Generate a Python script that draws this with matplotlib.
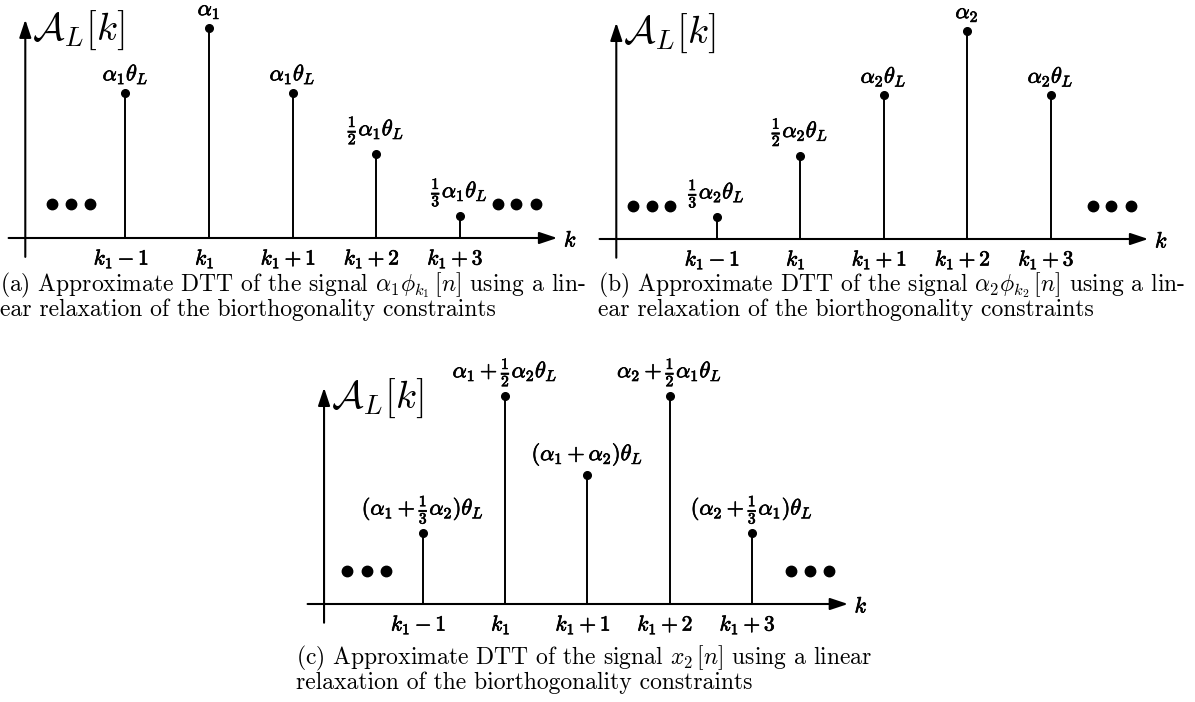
import matplotlib.pyplot as plt
from matplotlib import patheffects as pe

plt.rcParams['mathtext.fontset'] = 'cm'
plt.rcParams['font.family'] = 'cmr10'
plt.rcParams['axes.formatter.use_mathtext'] = True

W, H = 1195, 702

# stem positions (k1-1 ... k1+3) and their tick labels
k_pos = [-1, 0, 1, 2, 3]
tick_labels = [r'$k_1-1$', r'$k_1$', r'$k_1+1$', r'$k_1+2$', r'$k_1+3$']

# (a) alpha_1 phi_k1
amp_a = [0.69, 1.0, 0.69, 0.40, 0.105]
labels_a = [r'$\alpha_1\theta_L$', r'$\alpha_1$', r'$\alpha_1\theta_L$',
            r'$\frac{1}{2}\alpha_1\theta_L$', r'$\frac{1}{3}\alpha_1\theta_L$']
dots_a_left = [-1.88, -1.65, -1.43]
dots_a_right = [3.46, 3.68, 3.92]

# (b) alpha_2 phi_k2
amp_b = [0.105, 0.40, 0.69, 1.0, 0.69]
labels_b = [r'$\frac{1}{3}\alpha_2\theta_L$', r'$\frac{1}{2}\alpha_2\theta_L$',
            r'$\alpha_2\theta_L$', r'$\alpha_2$', r'$\alpha_2\theta_L$']
dots_b_left = [-2.0, -1.77, -1.56]
dots_b_right = [3.51, 3.72, 3.96]

# (c) x_2[n]
amp_c = [0.34, 1.0, 0.62, 1.0, 0.34]
labels_c = [r'$(\alpha_1+\frac{1}{3}\alpha_2)\theta_L$', r'$\alpha_1+\frac{1}{2}\alpha_2\theta_L$',
            r'$(\alpha_1+\alpha_2)\theta_L$', r'$\alpha_2+\frac{1}{2}\alpha_1\theta_L$',
            r'$(\alpha_2+\frac{1}{3}\alpha_1)\theta_L$']
dots_c_left = [-1.92, -1.68, -1.45]
dots_c_right = [3.48, 3.71, 3.94]
dots_y = 0.16

captions_a = [r'(a) Approximate DTT of the signal $\alpha_1\phi_{k_1}\,[n]$ using a lin-',
              'ear relaxation of the biorthogonality constraints']
captions_b = [r'(b) Approximate DTT of the signal $\alpha_2\phi_{k_2}\,[n]$ using a lin-',
              'ear relaxation of the biorthogonality constraints']
captions_c = [r'(c) Approximate DTT of the signal $x_2\,[n]$ using a linear',
              'relaxation of the biorthogonality constraints']

fig = plt.figure(figsize=(W / 100, H / 100), dpi=100)
bold = [pe.withStroke(linewidth=0.5, foreground='black')]


def make_axes(box, k0_px, step_px, base_px, unit_px):
    # box in pixels: left, top, right, bottom
    left, top, right, bottom = box
    ax = fig.add_axes([left / W, 1 - bottom / H, (right - left) / W, (bottom - top) / H])
    ax.set_xlim((left - k0_px) / step_px, (right - k0_px) / step_px)
    ax.set_ylim((base_px - bottom) / unit_px, (base_px - top) / unit_px)
    ax.axis('off')
    return ax


def draw_panel(ax, amps, labels, dots_left, dots_right):
    # axes with arrows
    arrow = dict(arrowstyle='-|>,head_length=0.9,head_width=0.3', color='black',
                 lw=1.5, shrinkA=0, shrinkB=0, mutation_scale=12)
    ax.annotate('', xy=(4.17, 0), xytext=(-2.4, 0), arrowprops=arrow)
    ax.annotate('', xy=(-2.2, 1.04), xytext=(-2.2, -0.09), arrowprops=arrow)
    ax.text(4.33, -0.01, r'$k$', fontsize=16, ha='center', va='center', path_effects=bold)
    ax.text(-2.12, 0.99, r'$\mathcal{A}_L[k]$', fontsize=28, ha='left', va='center')

    markerline, stemlines, baseline = ax.stem(k_pos, amps, linefmt='k-', markerfmt='ko', basefmt=' ')
    markerline.set_markersize(5.5)
    stemlines.set_linewidth(1.4)

    for k, a, lab in zip(k_pos, amps, labels):
        ax.annotate(lab, (k, a), xytext=(0, 5), textcoords='offset points',
                    ha='center', va='bottom', fontsize=16, path_effects=bold)
    for k, lab in zip(k_pos, tick_labels):
        ax.annotate(lab, (k, 0), xytext=(-3, -5.5), textcoords='offset points',
                    ha='center', va='top', fontsize=15.5, path_effects=bold)

    ax.plot(dots_left, [dots_y] * 3, 'ko', markersize=7.5)
    ax.plot(dots_right, [dots_y] * 3, 'ko', markersize=7.5)


ax_a = make_axes((0, 0, 590, 265), 209, 83.5, 238, 210)
draw_panel(ax_a, amp_a, labels_a, dots_a_left, dots_a_right)

ax_b = make_axes((590, 0, 1195, 265), 800, 83.5, 239, 208)
draw_panel(ax_b, amp_b, labels_b, dots_b_left, dots_b_right)

ax_c = make_axes((290, 370, 880, 640), 505, 82.25, 604, 208)
draw_panel(ax_c, amp_c, labels_c, dots_c_left, dots_c_right)


def caption(lines, x_px, y_px):
    for i, line in enumerate(lines):
        fig.text(x_px / W, 1 - (y_px + 25 * i) / H, line, fontsize=17,
                 ha='left', va='baseline', family='cmr10')


caption(captions_a, 0, 291)
caption(captions_b, 598, 291)
caption(captions_c, 296, 664)

fig.savefig('out.png', dpi=100, facecolor='white')
